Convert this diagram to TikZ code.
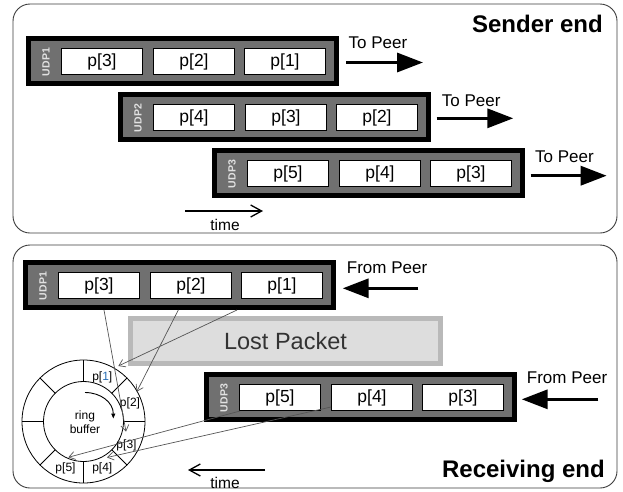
\documentclass[tikz,border=0pt]{standalone}
\usepackage{fontspec}
\setmainfont{Liberation Sans}
\usetikzlibrary{arrows.meta}
\definecolor{framegray}{RGB}{112,112,112}
\definecolor{lostfill}{RGB}{221,221,221}
\definecolor{lostedge}{RGB}{185,185,185}
\definecolor{panelline}{RGB}{60,60,60}
\definecolor{connline}{RGB}{85,85,85}
\definecolor{ringblue}{RGB}{40,110,180}
\definecolor{udptext}{RGB}{225,225,225}
\tikzset{
 panel/.style={draw=panelline, line width=0.9pt, rounded corners=17pt},
 udpframe/.style={draw=black, fill=framegray, line width=5pt, minimum width=308pt, minimum height=45pt, inner sep=0pt, outer sep=0pt},
 pktbox/.style={draw=black, fill=white, line width=1.4pt, minimum width=80.5pt, minimum height=26.5pt, inner sep=0pt, font=\fontsize{17.5}{20}\selectfont},
 udplabel/.style={rotate=90, text=udptext, font=\bfseries\fontsize{10.5}{12}\selectfont, inner sep=0pt},
 peertext/.style={font=\fontsize{17}{20}\selectfont, inner sep=0pt, anchor=base west},
 bigarrow/.style={line width=3.3pt, -{Triangle[length=26pt,width=19pt]}},
 timearrow/.style={line width=1.3pt, -{Straight Barb[length=11pt,width=12pt]}},
 timetext/.style={font=\fontsize{15.5}{18}\selectfont, inner sep=0pt},
 titletext/.style={font=\bfseries\fontsize{24}{28}\selectfont, inner sep=0pt, anchor=base east},
 conn/.style={draw=connline, line width=0.7pt, -{Straight Barb[length=6pt,width=8pt]}},
 seglabel/.style={font=\fontsize{12}{14}\selectfont, inner sep=0pt},
 ringtext/.style={font=\fontsize{12}{13.5}\selectfont, align=center, inner sep=0pt},
}
\newcommand\mkblock[7]{%
 \node[udpframe] (#1) at (#2+156.5,#3) {};
 \node[udplabel] (#1l) at (#2+20,#3+1) {#4};
 \node[pktbox] (#1a) at (#2+76,#3+0.5) {#5};
 \node[pktbox] (#1b) at (#2+168,#3+0.5) {#6};
 \node[pktbox] (#1c) at (#2+259,#3+0.5) {#7};
}
\begin{document}
\begin{tikzpicture}[x=1pt,y=-1pt]
\useasboundingbox (0,0) rectangle (623,491);
% panels
\draw[panel] (13,4) rectangle (617,233);
\draw[panel] (13,245) rectangle (617,488);
\node[titletext] (sender) at (603,32) {Sender end};
\node[titletext] (receiver) at (605,477) {Receiving end};
% sender blocks
\mkblock{sa}{26}{61}{UDP1}{p[3]}{p[2]}{p[1]}
\mkblock{sb}{118}{117}{UDP2}{p[4]}{p[3]}{p[2]}
\mkblock{sc}{212}{173}{UDP3}{p[5]}{p[4]}{p[3]}
% to peer arrows
\coordinate (ta1) at (346,62.5); \coordinate (th1) at (423,62.5);
\coordinate (ta2) at (436.7,118.3); \coordinate (th2) at (513.3,118.3);
\coordinate (ta3) at (530.7,175.7); \coordinate (th3) at (606.7,175.7);
\draw[bigarrow] (ta1) -- (th1);
\draw[bigarrow] (ta2) -- (th2);
\draw[bigarrow] (ta3) -- (th3);
\node[peertext] (tp1) at (348.5,48.3) {To Peer};
\node[peertext] (tp2) at (441.7,106.7) {To Peer};
\node[peertext] (tp3) at (535,162.3) {To Peer};
% time (sender)
\coordinate (tsa) at (185,211); \coordinate (tsb) at (263,211);
\draw[timearrow] (tsa) -- (tsb);
\node[timetext] (timetop) at (225,225) {time};
% receiver blocks
\mkblock{ra}{23}{285}{UDP1}{p[3]}{p[2]}{p[1]}
\mkblock{rc}{204}{397}{UDP3}{p[5]}{p[4]}{p[3]}
\node[draw=lostedge, fill=lostfill, line width=5pt, minimum width=310pt, minimum height=45pt, inner sep=0pt, font=\fontsize{23.5}{28}\selectfont, text=black!80] (lost) at (285.5,341) {Lost Packet};
% from peer arrows
\coordinate (fa1) at (418.3,288.3); \coordinate (fh1) at (342.7,288.3);
\coordinate (fa2) at (598.3,399.3); \coordinate (fh2) at (521.7,399.3);
\draw[bigarrow] (fa1) -- (fh1);
\draw[bigarrow] (fa2) -- (fh2);
\node[peertext] (fp1) at (346.7,273.3) {From Peer};
\node[peertext] (fp2) at (526.7,383.3) {From Peer};
% time (receiver)
\coordinate (tra) at (265,470); \coordinate (trb) at (188,470);
\draw[timearrow] (tra) -- (trb);
\node[timetext] (timebot) at (225,483) {time};
% ring buffer
\coordinate (ringc) at (83.5,421.5);
\node[draw, line width=0.8pt, circle, minimum size=123pt, inner sep=0pt] (ringout) at (ringc) {};
\node[draw, line width=0.8pt, circle, minimum size=80pt, inner sep=0pt] (ringin) at (ringc) {};
\foreach \a in {0,45,...,315}
  \draw[line width=0.8pt] ([shift={(\a:40pt)}]ringc) -- ([shift={(\a:61.5pt)}]ringc);
\node[ringtext] (ringlbl) at (85,422) {ring\\buffer};
\coordinate (rotA) at (85,392.5); \coordinate (rotB) at (113.3,418.5);
\draw[line width=0.9pt, -{Triangle[length=5pt,width=4pt]}] (rotA) .. controls (101,392.5) and (113.3,402.5) .. (rotB);
\node[seglabel] (s1) at (102.3,377) {p[{\color{ringblue}1}]};
\node[seglabel] (s2) at (130,403.3) {p[2]};
\node[seglabel] (s3) at (126.5,445) {p[3]};
\node[seglabel] (s4) at (102.3,468) {p[4]};
\node[seglabel] (s5) at (65.5,468) {p[5]};
% connectors
\coordinate (c1s) at (237,310); \coordinate (c1e) at (118.3,366);
\coordinate (c2s) at (178.3,310); \coordinate (c2e) at (136.7,391.7);
\coordinate (c3s) at (104,310); \coordinate (c3e) at (126,431.7);
\coordinate (c5s) at (240,411); \coordinate (c5e) at (68.3,457.3);
\coordinate (c4s) at (331,407); \coordinate (c4e) at (107,457.5);
\draw[conn] (c1s) -- (c1e);
\draw[conn] (c2s) -- (c2e);
\draw[conn] (c3s) -- (c3e);
\draw[conn] (c5s) -- (c5e);
\draw[conn] (c4s) -- (c4e);
\end{tikzpicture}
\end{document}
